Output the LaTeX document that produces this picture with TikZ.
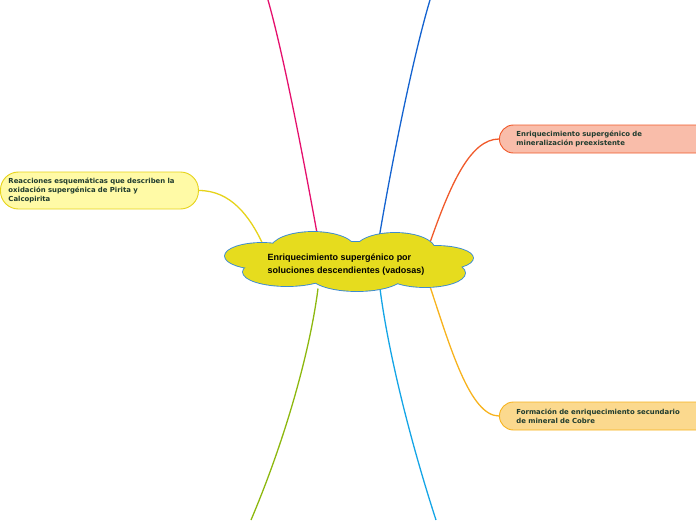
\documentclass[tikz,border=0pt]{standalone}
\usepackage{fontspec}
\setmainfont{Liberation Sans}
\newfontfamily\branchfont{DejaVu Sans}
\usetikzlibrary{backgrounds,positioning,calc}
\definecolor{cloudfill}{HTML}{E6DC1E}
\definecolor{cloudline}{HTML}{3D8BD0}
\definecolor{txt}{HTML}{1F3B2E}
\definecolor{pinkc}{HTML}{E5106D}
\definecolor{bluec}{HTML}{1463D0}
\definecolor{redc}{HTML}{F05A2B}
\definecolor{yelc}{HTML}{E6D31A}
\definecolor{greenc}{HTML}{8DB80F}
\definecolor{skyc}{HTML}{14A5E6}
\definecolor{orc}{HTML}{F7B31E}
\tikzset{topic/.style={font=\bfseries\fontsize{9}{13}\selectfont,align=left,inner sep=0pt},
  branch/.style={rounded corners=#1,line width=.9pt,anchor=west,align=left,text=txt,
    font=\branchfont\bfseries\fontsize{6.9}{8.6}\selectfont},
  link/.style={line width=1.3pt}}
% lobes of the cloud: centre x, centre y, x radius, y radius
\newcommand{\lobes}{(262,256)/37/13, (313,249)/42/17, (395,250)/40/17, (436,258)/37/12,
  (425,273)/40/14, (357,276)/46/15, (287,272)/44/14, (350,262)/100/20}
\begin{document}
\begin{tikzpicture}[x=1pt,y=-1pt]
\clip (0,0) rectangle (696,520);
\useasboundingbox (0,0) rectangle (696,520);
\node[topic] (centro) at (346,264.5) {Enriquecimiento supergénico por\\soluciones descendientes (vadosas)};
\node[branch=18pt,fill=yellow!35,draw=yelc,minimum height=37pt,text width=182pt,inner xsep=8pt]
  (reac) at (0,190.5) {Reacciones esquemáticas que describen la\\oxidación supergénica de Pirita y\\Calcopirita};
\node[branch=14pt,fill=redc!40,draw=redc,minimum height=28pt,text width=200pt,inner xsep=17pt]
  (preex) at (499,139) {Enriquecimiento supergénico de\\mineralización preexistente};
\node[branch=14pt,fill=orc!50,draw=orc,minimum height=28pt,text width=200pt,inner xsep=17pt]
  (cobre) at (499,416) {Formación de enriquecimiento secundario\\de mineral de Cobre};
\coordinate (arribaI) at (268,0);
\coordinate (arribaD) at (430,0);
\coordinate (abajoI) at (251,520);
\coordinate (abajoD) at (436,520);
\begin{scope}[on background layer]
\draw[link,pinkc] ($(centro)+(-28,-26)$) .. controls +(-12,-66) and +(17,60) .. (arribaI);
\draw[link,bluec] ($(centro)+(33,-26)$) .. controls +(11,-66) and +(-18,60) .. (arribaD);
\draw[link,greenc] ($(centro)+(-28,24)$) .. controls +(-8,63) and +(34,-80) .. (abajoI);
\draw[link,skyc] ($(centro)+(34,24)$) .. controls +(8,63) and +(-26,-80) .. (abajoD);
\draw[link,redc] ($(centro)+(84,-22)$) .. controls +(20,-57) and +(-29,0) .. (preex.west);
\draw[link,orc] ($(centro)+(84,22)$) .. controls +(20,60) and +(-29,0) .. (cobre.west);
\draw[link,yelc] ($(centro)+(-83,-20)$) .. controls +(-13,-28) and +(32,0) .. (reac.east);
% cloud: outline first, then fill over the inner edges
\foreach \c/\rx/\ry in \lobes
  \draw[cloudline,line width=1.8pt] \c ellipse [x radius=\rx,y radius=\ry];
\foreach \c/\rx/\ry in \lobes
  \fill[cloudfill] \c ellipse [x radius=\rx,y radius=\ry];
\end{scope}
\end{tikzpicture}
\end{document}
